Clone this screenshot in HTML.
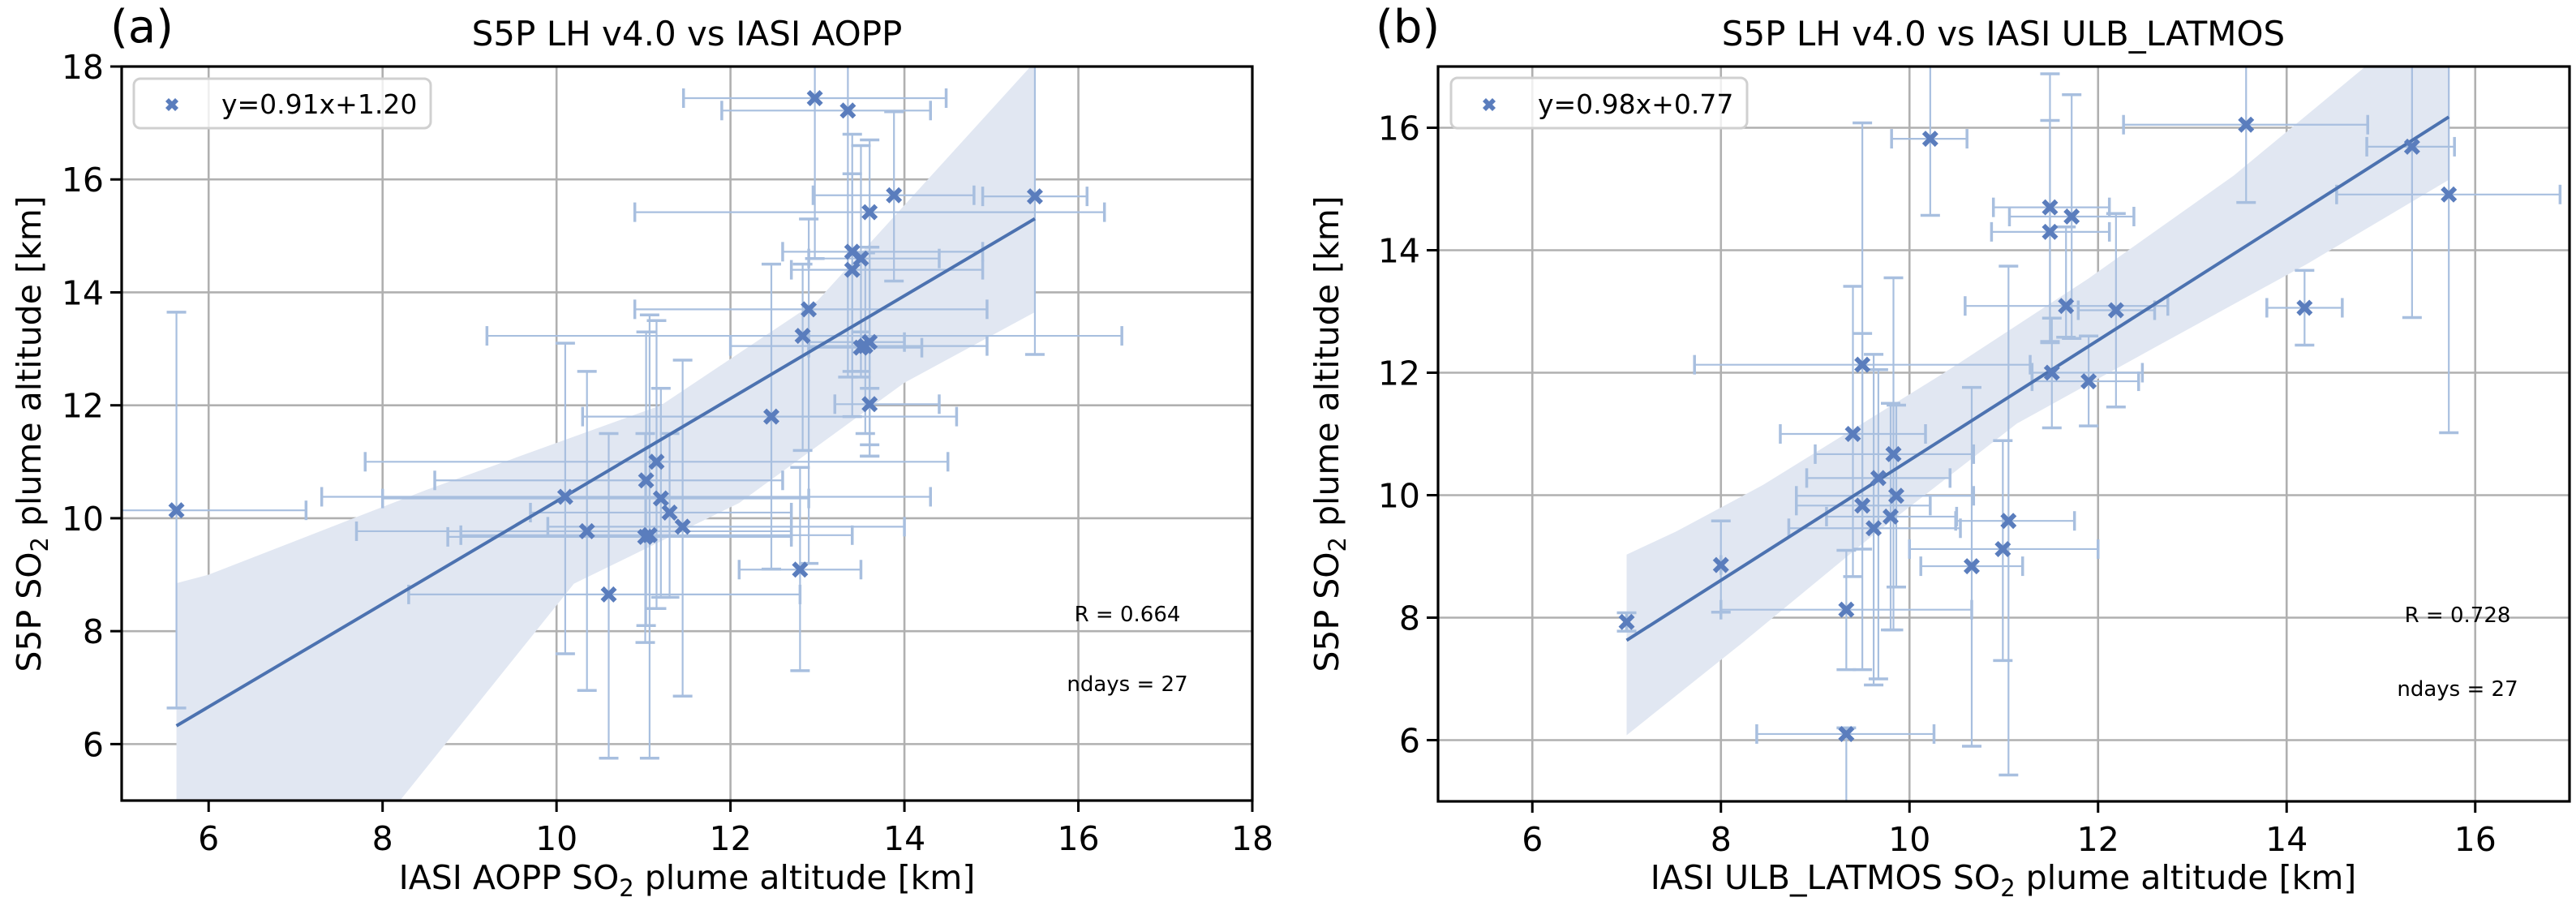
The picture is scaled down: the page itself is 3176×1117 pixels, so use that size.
<!DOCTYPE html>
<html><head><meta charset="utf-8"><style>
html,body{margin:0;padding:0;background:#fff;}
svg{display:block;font-family:"DejaVu Sans","Liberation Sans",sans-serif;}
</style></head><body>
<svg id="fig" width="3176" height="1117" viewBox="0 0 3176 1117" xmlns="http://www.w3.org/2000/svg">
<defs>
<clipPath id="clipA"><rect x="150" y="82" width="1394" height="905"/></clipPath>
<clipPath id="clipB"><rect x="1773" y="82" width="1395" height="906"/></clipPath>
</defs>
<rect width="3176" height="1117" fill="#fff"/>
<g id="panelA"></g>
<g id="panelB"></g>
</svg>
<script>
// ---- Panel (a) data: S5P vs IASI AOPP ----
const aX   = [5.63,12.97,13.35,13.88,15.5,13.6,13.4,13.5,13.4,12.9,12.83,13.55,13.6,13.6,12.47,11.15,11.03,10.1,11.2,11.3,11.45,10.35,11.02,11.07,10.6,12.8,13.5];
const aY   = [10.14,17.44,17.22,15.72,15.70,15.42,14.72,14.60,14.40,13.70,13.23,13.05,13.12,12.02,11.80,11.0,10.67,10.38,10.35,10.1,9.85,9.77,9.67,9.70,8.65,9.09,13.02];
const aXlo = [4.9,11.46,11.9,12.95,14.9,10.9,12.6,12.9,12.7,10.9,9.2,12.0,12.9,13.2,10.3,7.8,8.6,7.3,8.0,9.7,9.9,7.7,8.75,8.9,8.3,12.1,12.9];
const aXhi = [7.12,14.48,14.3,14.8,16.1,16.3,14.9,14.4,14.9,14.95,16.5,14.95,14.0,14.4,14.6,14.5,12.6,14.3,12.9,12.7,14.0,12.7,12.7,13.4,12.8,13.5,14.2];
const aYlo = [6.64,14.6,12.5,14.2,12.9,11.1,12.6,12.5,11.8,9.2,11.2,11.5,11.3,11.1,9.1,8.4,8.1,7.6,8.6,8.6,6.85,6.95,7.8,5.75,5.75,7.3,12.6];
const aYhi = [13.65,18.3,18.3,17.2,18.2,16.7,16.8,16.6,16.1,15.3,14.5,14.7,14.8,12.3,14.5,13.5,13.3,13.1,12.3,11.5,12.8,12.6,11.5,13.6,11.5,10.9,13.3];
const aBandX  = [5.63,6.0,8.5,11.2,13.0,15.45,15.5];
const aBandHi = [8.85,9.0,10.5,12.0,13.85,18.0,18.2];
const aBandLoX = [5.63,8.2,10.2,12.1,14.0,15.5];
const aBandLo  = [4.0,5.0,8.84,10.27,12.4,13.65];
const aFit = [0.91,1.20];
const aTicks = [6,8,10,12,14,16,18];

// ---- Panel (b) data: S5P vs IASI ULB_LATMOS ----
const bX   = [7.0,8.0,9.33,9.33,9.40,9.5,9.5,9.62,9.67,9.8,9.83,9.86,10.22,10.66,10.99,11.05,11.49,11.72,11.49,11.66,11.51,11.9,12.19,13.57,14.19,15.33,15.72];
const bY   = [7.93,8.86,6.10,8.13,11.0,12.13,9.83,9.46,10.28,9.65,10.67,9.99,15.82,8.84,9.12,9.58,14.70,14.55,14.30,13.09,12.0,11.86,13.02,16.05,13.06,15.69,14.91];
const bXlo = [7.0,8.0,8.38,8.0,8.63,7.72,8.8,8.72,8.91,9.12,9.0,8.8,9.81,10.12,10.0,10.49,10.89,11.06,10.87,10.59,11.3,11.3,11.79,12.27,13.79,14.85,14.53];
const bXhi = [7.0,8.0,10.26,10.66,10.17,11.28,10.22,10.54,10.43,10.5,10.68,10.68,10.61,11.2,12.0,11.75,12.12,12.38,12.12,12.74,12.47,12.43,12.6,14.86,14.59,15.78,16.9];
const bYlo = [7.78,8.09,4.9,7.15,8.67,9.12,7.15,6.9,7.0,7.8,7.8,8.5,14.57,5.9,7.3,5.43,12.49,12.56,12.51,12.58,11.1,11.13,11.44,14.78,12.45,12.9,11.02];
const bYhi = [8.08,9.58,6.2,9.1,13.41,16.08,12.64,12.3,12.05,11.5,13.55,11.47,17.2,11.76,10.89,13.74,16.88,16.54,16.12,14.38,12.89,12.6,14.6,17.2,13.67,17.2,17.2];
const bBandX  = [7.0,7.53,8.45,10.37,11.9,13.44,14.82,15.72];
const bBandHi = [9.03,9.41,10.17,12.0,13.54,15.22,16.98,18.0];
const bBandLoX = [7.0,8.22,9.6,11.14,12.67,14.21,15.71,15.72];
const bBandLo  = [6.08,7.58,9.33,11.17,12.47,13.77,15.14,15.14];
const bFit = [0.98,0.77];
const bTicks = [6,8,10,12,14,16];

const NS = "http://www.w3.org/2000/svg";
const MARK = "#5a7dbd", ERR = "#a8bfdf", LINE = "#4c72b0", BAND = "#e1e7f2", GRID = "#b0b0b0";
function mk(tag, attrs, parent){
  const e = document.createElementNS(NS, tag);
  for (const k in attrs) e.setAttribute(k, attrs[k]);
  parent.appendChild(e);
  return e;
}
function panel(g, P, d){
  const sx = v => P.x0 + (v - P.xmin) * (P.x1 - P.x0) / (P.xmax - P.xmin);
  const sy = v => P.y1 - (v - P.ymin) * (P.y1 - P.y0) / (P.ymax - P.ymin);
  d.xticks.forEach(t => {
    const l = mk('line', {x1:sx(t), x2:sx(t), y1:P.y0, y2:P.y1, stroke:GRID, 'stroke-width':2.6}, g);
    
    
  });
  d.yticks.forEach(t => {
    const l = mk('line', {x1:P.x0, x2:P.x1, y1:sy(t), y2:sy(t), stroke:GRID, 'stroke-width':2.6}, g);
    
    
  });
  const cg = mk('g', {'clip-path':'url(#' + P.clip + ')'}, g);
  let pts = [];
  d.bandX.forEach((x, i) => pts.push(sx(x) + ',' + sy(d.bandHi[i])));
  for (let i = d.bandLoX.length - 1; i >= 0; i--) pts.push(sx(d.bandLoX[i]) + ',' + sy(d.bandLo[i]));
  const band = mk('polygon', {points:pts.join(' '), fill:BAND}, cg);
  
  
  d.x.forEach((x, i) => {
    const y = d.y[i];
    const eg = mk('g', {stroke:ERR, fill:'none'}, cg);
    
    
    mk('line', {x1:sx(d.xlo[i]), x2:sx(d.xhi[i]), y1:sy(y), y2:sy(y), 'stroke-width':2.2}, eg);
    mk('line', {x1:sx(x), x2:sx(x), y1:sy(d.ylo[i]), y2:sy(d.yhi[i]), 'stroke-width':2.2}, eg);
    [d.xlo[i], d.xhi[i]].forEach(v => mk('line', {x1:sx(v), x2:sx(v), y1:sy(y)-12, y2:sy(y)+12, 'stroke-width':3.5}, eg));
    [d.ylo[i], d.yhi[i]].forEach(v => mk('line', {x1:sx(x)-12, x2:sx(x)+12, y1:sy(v), y2:sy(v), 'stroke-width':3.5}, eg));
  });
  const xa = Math.min(...d.x), xb = Math.max(...d.x);
  const fl = mk('line', {x1:sx(xa), y1:sy(d.fit[0]*xa + d.fit[1]), x2:sx(xb), y2:sy(d.fit[0]*xb + d.fit[1]), stroke:LINE, 'stroke-width':4}, cg);
  
  
  d.x.forEach((x, i) => {
    const m = mk('path', {d:xMarker(sx(x), sy(d.y[i]), 10), fill:MARK}, cg);
    
    
  });
  const fr = mk('rect', {x:P.x0, y:P.y0, width:P.x1-P.x0, height:P.y1-P.y0, fill:'none', stroke:'#000', 'stroke-width':3.2}, g);
  
  
  d.xticks.forEach(t => {
    mk('line', {x1:sx(t), x2:sx(t), y1:P.y1, y2:P.y1+14, stroke:'#000', 'stroke-width':3}, g);
    const tx = mk('text', {x:sx(t), y:P.y1+61, 'font-size':41, 'text-anchor':'middle'}, g);
    tx.textContent = t;
    
    
  });
  d.yticks.forEach(t => {
    mk('line', {x1:P.x0-14, x2:P.x0, y1:sy(t), y2:sy(t), stroke:'#000', 'stroke-width':3}, g);
    const ty = mk('text', {x:P.x0-22, y:sy(t)+15, 'font-size':41, 'text-anchor':'end'}, g);
    ty.textContent = t;
    
    
  });
}
function xMarker(cx, cy, r){
  const a = r*0.42;
  return `M${cx-r},${cy-r+a} L${cx-r+a},${cy-r} L${cx},${cy-a} L${cx+r-a},${cy-r} L${cx+r},${cy-r+a} L${cx+a},${cy} L${cx+r},${cy+r-a} L${cx+r-a},${cy+r} L${cx},${cy+a} L${cx-r+a},${cy+r} L${cx-r},${cy+r-a} L${cx-a},${cy} Z`;
}
panel(document.getElementById('panelA'),
  {x0:150, x1:1544, y0:82, y1:987, xmin:5, xmax:18, ymin:5, ymax:18, clip:'clipA'},
  {x:aX, y:aY, xlo:aXlo, xhi:aXhi, ylo:aYlo, yhi:aYhi, bandX:aBandX, bandHi:aBandHi, bandLoX:aBandLoX, bandLo:aBandLo, fit:aFit, xticks:aTicks, yticks:aTicks});
panel(document.getElementById('panelB'),
  {x0:1773, x1:3168, y0:82, y1:988, xmin:5, xmax:17, ymin:5, ymax:17, clip:'clipB'},
  {x:bX, y:bY, xlo:bXlo, xhi:bXhi, ylo:bYlo, yhi:bYhi, bandX:bBandX, bandHi:bBandHi, bandLoX:bBandLoX, bandLo:bBandLo, fit:bFit, xticks:bTicks, yticks:bTicks});
</script>
<script>
(function(){
  const svg = document.getElementById('fig');
  const html = `
  <text x="136" y="52" font-size="56">(a)</text>
  <text x="847" y="56" font-size="42" text-anchor="middle">S5P LH v4.0 vs IASI AOPP</text>
  <text x="847" y="1096" font-size="41" text-anchor="middle">IASI AOPP SO<tspan font-size="29" dy="9">2</tspan><tspan dy="-9"> plume altitude [km]</tspan></text>
  <text transform="translate(50,535) rotate(-90)" font-size="41" text-anchor="middle">S5P SO<tspan font-size="29" dy="9">2</tspan><tspan dy="-9"> plume altitude [km]</tspan></text>
  <g>
    <rect x="165" y="97" width="366" height="61" rx="8" fill="#fff" fill-opacity="0.8" stroke="#d0d0d0" stroke-width="3"/>
    <path d="M204,125 L208,121 L212,125 L216,121 L220,125 L216,129 L220,133 L216,137 L212,133 L208,137 L204,133 L208,129 Z" fill="#5a7dbd"/>
    <text x="273" y="140" font-size="33">y=0.91x+1.20</text>
  </g>
  <text x="1390" y="766" font-size="26" text-anchor="middle">R = 0.664</text>
  <text x="1390" y="852" font-size="26" text-anchor="middle">ndays = 27</text>

  <text x="1696" y="52" font-size="56">(b)</text>
  <text x="2470" y="56" font-size="42" text-anchor="middle">S5P LH v4.0 vs IASI ULB_LATMOS</text>
  <text x="2470" y="1096" font-size="41" text-anchor="middle">IASI ULB_LATMOS SO<tspan font-size="29" dy="9">2</tspan><tspan dy="-9"> plume altitude [km]</tspan></text>
  <text transform="translate(1650,535) rotate(-90)" font-size="41" text-anchor="middle">S5P SO<tspan font-size="29" dy="9">2</tspan><tspan dy="-9"> plume altitude [km]</tspan></text>
  <g>
    <rect x="1789" y="96" width="365" height="62" rx="8" fill="#fff" fill-opacity="0.8" stroke="#d0d0d0" stroke-width="3"/>
    <path d="M1828,125 L1832,121 L1836,125 L1840,121 L1844,125 L1840,129 L1844,133 L1840,137 L1836,133 L1832,137 L1828,133 L1832,129 Z" fill="#5a7dbd"/>
    <text x="1896" y="140" font-size="33">y=0.98x+0.77</text>
  </g>
  <text x="3030" y="767" font-size="26" text-anchor="middle">R = 0.728</text>
  <text x="3030" y="858" font-size="26" text-anchor="middle">ndays = 27</text>`;
  const tmp = document.createElementNS("http://www.w3.org/2000/svg", "g");
  tmp.innerHTML = html;
  svg.appendChild(tmp);
})();
</script>
</body></html>
